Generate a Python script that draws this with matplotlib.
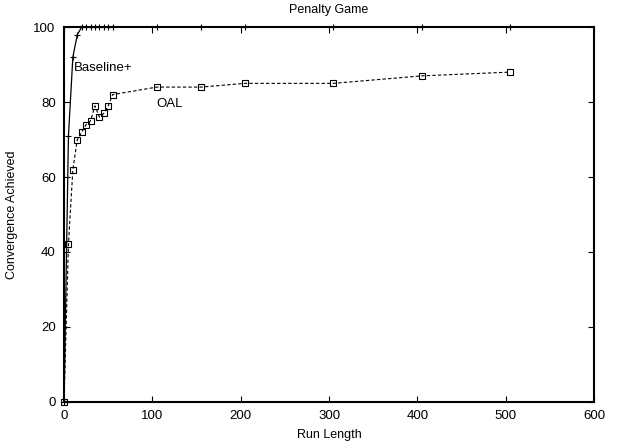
import numpy as np
import matplotlib.pyplot as plt

plt.rcParams['font.family'] = ['Liberation Sans', 'DejaVu Sans']

base_x = [0, 5, 10, 15, 20, 25, 30, 35, 40, 45, 50, 55, 105, 155, 205, 305, 405, 505]
base_y = [0, 71, 92, 98, 100, 100, 100, 100, 100, 100, 100, 100, 100, 100, 100, 100, 100, 100]

oal_x = [0, 5, 10, 15, 20, 25, 30, 35, 40, 45, 50, 55, 105, 155, 205, 305, 405, 505]
oal_y = [0, 42, 62, 70, 72, 74, 75, 79, 76, 77, 79, 82, 84, 84, 85, 85, 87, 88]

fig, ax = plt.subplots(figsize=(6.34, 4.45), dpi=100)
fig.subplots_adjust(left=0.101, right=0.937, bottom=0.097, top=0.939)

ax.plot(base_x, base_y, color='black', linestyle='-', linewidth=0.9,
        marker='+', markersize=5, markeredgewidth=0.8, clip_on=False, zorder=3)
ax.plot(oal_x, oal_y, color='black', linestyle=(0, (3, 2)), linewidth=0.8,
        marker='s', markersize=4.5, markerfacecolor='none', markeredgewidth=0.8,
        clip_on=False, zorder=3)

ax.text(11, 89, 'Baseline+', fontsize=9.5, ha='left', va='center')
ax.text(105, 79.5, 'OAL', fontsize=9.5, ha='left', va='center')

ax.set_xlim(0, 600)
ax.set_ylim(0, 100)
ax.set_xticks(np.arange(0, 601, 100))
ax.set_yticks(np.arange(0, 101, 20))
ax.tick_params(axis='both', direction='in', length=4.5, width=0.8, labelsize=9.5,
               top=True, right=True)
ax.tick_params(axis='x', pad=6)
ax.tick_params(axis='y', pad=6)
for s in ax.spines.values():
    s.set_linewidth(1.5)

ax.set_xlabel('Run Length', fontsize=9, labelpad=5)
ax.set_ylabel('Convergence Achieved', fontsize=9, labelpad=11)
ax.set_title('Penalty Game', fontsize=9, pad=10)

plt.savefig('out.png', dpi=100)
